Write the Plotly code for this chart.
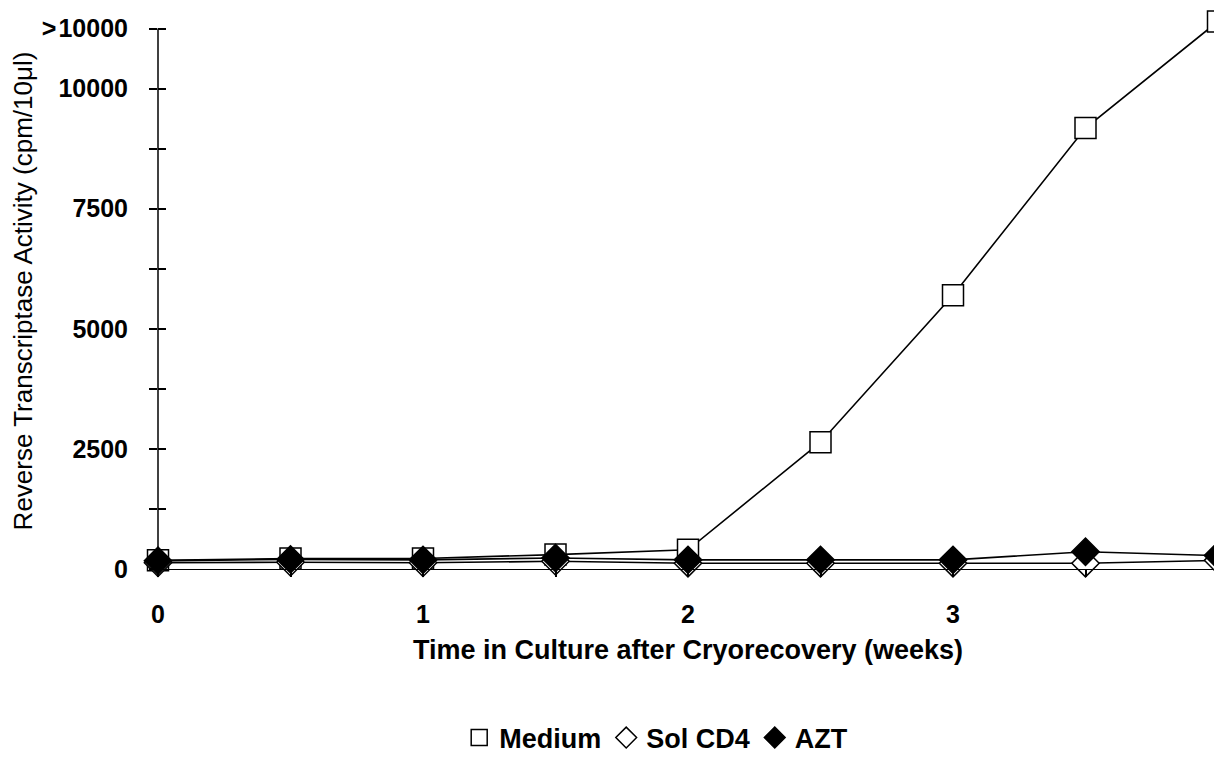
import plotly.graph_objects as go

weeks = [0, 0.5, 1, 1.5, 2, 2.5, 3, 3.5, 4]
medium = [180, 220, 220, 300, 400, 2640, 5700, 9180, 11400]
sol_cd4 = [130, 140, 130, 160, 120, 120, 120, 120, 180]
azt = [170, 200, 190, 230, 190, 190, 190, 360, 280]

ytick_vals = [0, 1250, 2500, 3750, 5000, 6250, 7500, 8750, 10000, 11250]
ytick_text = ["0", "", "2500", "", "5000", "", "7500", "", "10000", ">\u200a10000"]
xtick_vals = [0, 0.5, 1, 1.5, 2, 2.5, 3, 3.5, 4]
xtick_text = ["0", "", "1", "", "2", "", "3", "", "4"]

AXIS_TOP = 11250      # top of the drawn y-axis ("> 10000")
Y_RANGE = [0, 11575]  # a little headroom so the off-scale point stays visible

FONT = "Liberation Sans, Arial, sans-serif"

series = [
    ("Medium", medium, "square", "white"),
    ("Sol CD4", sol_cd4, "diamond", "white"),
    ("AZT", azt, "diamond", "black"),
]

fig = go.Figure()
for name, vals, sym, fill in series:
    fig.add_trace(go.Scatter(
        x=weeks, y=vals, mode="lines", line=dict(color="black", width=1.6),
        showlegend=False, hoverinfo="skip", cliponaxis=False))
for name, vals, sym, fill in series:
    fig.add_trace(go.Scatter(
        x=weeks, y=vals, name=name, mode="markers",
        marker=dict(symbol=sym, size=21, color=fill, line=dict(color="black", width=1.5)),
        cliponaxis=False))
# invisible trace to activate the inner-tick overlay axis
fig.add_trace(go.Scatter(x=[0], y=[0], yaxis="y2", mode="markers",
                         marker=dict(opacity=0), showlegend=False, hoverinfo="skip"))

# y-axis line only up to the top tick
fig.add_shape(type="line", xref="paper", yref="y", x0=0, x1=0, y0=0, y1=AXIS_TOP,
              line=dict(color="black", width=1.5), layer="above")

# page body has an 8px default margin, so the figure is sized to fill the rest of the window
fig.update_layout(
    width=1214, height=759,
    paper_bgcolor="white", plot_bgcolor="white",
    margin=dict(l=150, r=4, t=5, b=184),
    font=dict(family=FONT, color="black"),
    showlegend=True,
    legend=dict(orientation="h", x=0.47, xanchor="center", y=-0.304, yanchor="middle",
                font=dict(size=27, family=FONT, weight="bold"), itemsizing="trace",
                itemwidth=30, bgcolor="rgba(0,0,0,0)"),
    xaxis=dict(range=[0, 4], tickvals=xtick_vals, ticktext=xtick_text, automargin=False,
               showgrid=False, zeroline=False, showline=True, linecolor="black", linewidth=1.2,
               ticks="outside", ticklen=7, tickcolor="black", tickwidth=1.5,
               ticklabelstandoff=16,
               tickfont=dict(size=25, family=FONT, weight="bold"),
               title=dict(text="Time in Culture after Cryorecovery (weeks)",
                          font=dict(size=27, family=FONT, weight="bold"), standoff=13)),
    yaxis=dict(range=Y_RANGE, tickvals=ytick_vals, ticktext=ytick_text, automargin=False,
               showgrid=False, zeroline=False, showline=False,
               ticks="outside", ticklen=8, tickcolor="black", tickwidth=1.5,
               ticklabelstandoff=16,
               tickfont=dict(size=25, family=FONT, weight="bold"),
               title=dict(text="Reverse Transcriptase Activity (cpm/10\u03bcl)",
                          font=dict(size=26, family=FONT), standoff=6)),
    yaxis2=dict(range=Y_RANGE, overlaying="y", side="left", anchor="x",
                tickvals=ytick_vals, showticklabels=False, automargin=False,
                showgrid=False, zeroline=False, showline=False,
                ticks="inside", ticklen=8, tickcolor="black", tickwidth=1.5),
)

fig.write_html("out.html")
